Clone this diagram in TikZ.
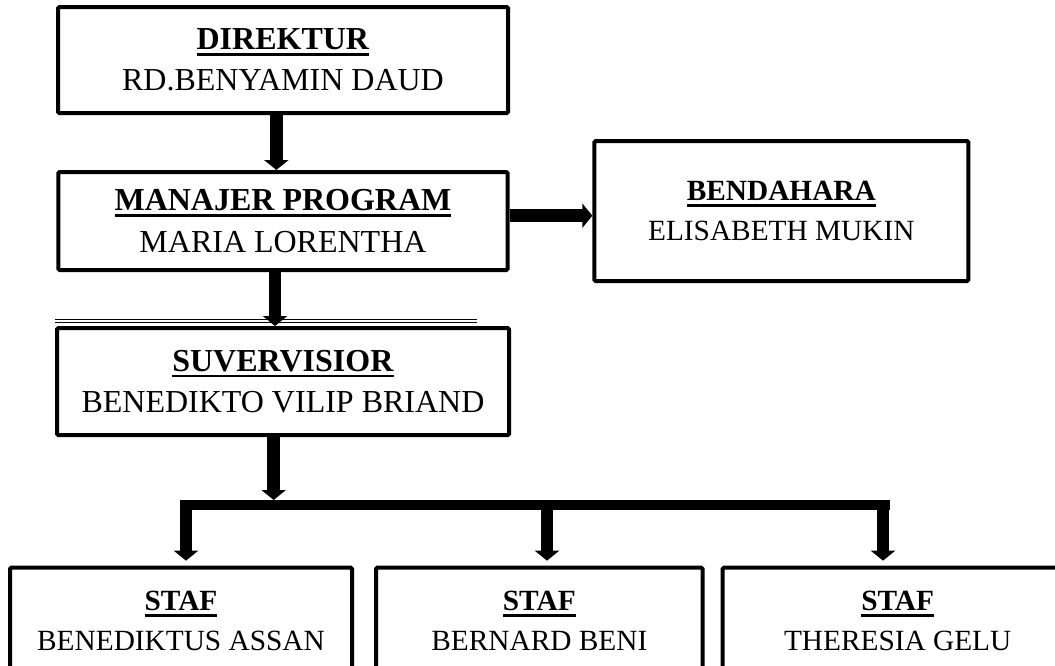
\documentclass[tikz,border=0pt]{standalone}
\usepackage{fontspec}
\setmainfont{Liberation Serif}
\usetikzlibrary{positioning,arrows.meta}

\newsavebox{\jabatanbox}
\newcommand{\jabatan}[1]{\sbox{\jabatanbox}{\textbf{#1}}\rlap{\rule[-4.6pt]{\wd\jabatanbox}{2pt}}\usebox{\jabatanbox}}

\begin{document}
\begin{tikzpicture}[
  x=0.75pt, y=-0.75pt,
  font=\fontsize{24}{31}\selectfont,
  >={Triangle[width=18pt,length=7.5pt]},
  box/.style={
    draw=black, line width=3pt, rounded corners=1pt,
    align=center, inner sep=0pt, fill=white
  },
  kecil/.style={font=\fontsize{22}{30}\selectfont},
  arrow/.style={->, line width=9.5pt, black},
  cabang/.style={line width=7.5pt, black},
  garisganda/.style={double, double distance=1.6pt, line width=0.7pt}
]
\useasboundingbox (0,0) rectangle (1055,665);

% ---------- PIMPINAN ----------
\node[box, minimum width=337.5pt, minimum height=79.5pt] (direktur) at (283,60)
  {\jabatan{DIREKTUR}\\RD.BENYAMIN DAUD};
\node[box, minimum width=337pt, minimum height=73.5pt, below=41.25pt of direktur] (manajer)
  {\jabatan{MANAJER PROGRAM}\\MARIA LORENTHA};
\node[box, kecil, minimum width=280.5pt, minimum height=105pt,
      right=62pt of manajer, yshift=7.5pt] (bendahara)
  {\jabatan{BENDAHARA}\\ELISABETH MUKIN};
\node[box, minimum width=339pt, minimum height=80.25pt, below=40.5pt of manajer] (supervisor)
  {\jabatan{SUVERVISIOR}\\BENEDIKTO VILIP BRIAND};

% garis di atas supervisor
\draw[garisganda] ([yshift=4pt]supervisor.north west) -- ([xshift=-25.5pt,yshift=4pt]supervisor.north east);

% ---------- STAF ----------
\node[box, kecil, minimum width=256.5pt, minimum height=80pt] (staf1) at (181,621)
  {\jabatan{STAF}\\BENEDIKTUS ASSAN};
\node[box, kecil, minimum width=245pt, minimum height=80pt, right=15pt of staf1] (staf2)
  {\jabatan{STAF}\\BERNARD BENI};
\node[box, kecil, minimum width=262.5pt, minimum height=80pt, right=12pt of staf2] (staf3)
  {\jabatan{STAF}\\THERESIA GELU};

% titik cabang
\coordinate (cabangkiri)  at (180,505);
\coordinate (cabangkanan) at (890,505);
\coordinate (c1) at (186,505);
\coordinate (c2) at (547,505);
\coordinate (c3) at (883,505);

% ---------- Panah ----------
\draw[arrow] ([xshift=-5pt]direktur.south) -- ([xshift=-5pt]direktur.south |- manajer.north);
\draw[arrow] ([yshift=4pt]manajer.east) -- ([yshift=4pt]manajer.east -| bendahara.west);
\draw[arrow] ([xshift=-6pt]manajer.south) -- ([xshift=-6pt]manajer.south |- supervisor.north);
\draw[arrow, shorten >=3.75pt] ([xshift=-7pt]supervisor.south) -- ([xshift=-7pt]supervisor.south |- cabangkiri);
\draw[cabang] (cabangkiri) -- (cabangkanan);
\draw[arrow, shorten >=3.75pt] (c1) -- (c1 |- staf1.north);
\draw[arrow, shorten >=3.75pt] (c2) -- (c2 |- staf2.north);
\draw[arrow, shorten >=3.75pt] (c3) -- (c3 |- staf3.north);

\end{tikzpicture}
\end{document}
